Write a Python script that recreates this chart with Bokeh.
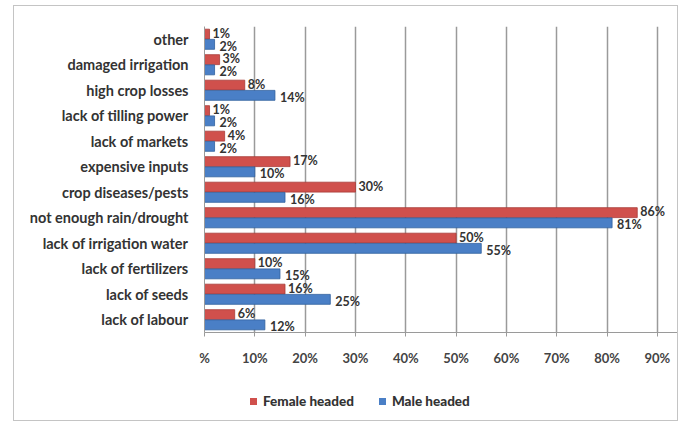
from bokeh.plotting import figure
from bokeh.models import ColumnDataSource, FactorRange, Range1d, FixedTicker, Div
from bokeh.layouts import column
from bokeh.transform import dodge
from bokeh.core.properties import value
from bokeh.embed import file_html
from bokeh.resources import INLINE

categories = ["other", "damaged irrigation", "high crop losses", "lack of tilling power",
              "lack of markets", "expensive inputs", "crop diseases/pests",
              "not enough rain/drought", "lack of irrigation water", "lack of fertilizers",
              "lack of seeds", "lack of labour"]
female = [1, 3, 8, 1, 4, 17, 30, 86, 50, 10, 16, 6]
male = [2, 2, 14, 2, 2, 10, 16, 81, 55, 15, 25, 12]
ticks = [0, 10, 20, 30, 40, 50, 60, 70, 80, 90]
tick_labels = ["%", "10%", "20%", "30%", "40%", "50%", "60%", "70%", "80%", "90%"]
series_names = ["Female headed", "Male headed"]

RED = "#d0504c"
BLUE = "#4a7fc6"
FONT = "Lato"

factors = list(reversed(categories))
src = ColumnDataSource(dict(
    cat=categories, female=female, male=male,
    flab=[f"{v}%" for v in female], mlab=[f"{v}%" for v in male],
))

p = figure(frame_width=473, frame_height=306, y_range=FactorRange(*factors), x_range=Range1d(0, 94),
           output_backend="svg", toolbar_location=None,
           min_border_left=190, min_border_right=0, min_border_top=20, min_border_bottom=50)
p.outline_line_color = None
p.background_fill_color = "white"
p.border_fill_color = "white"

# grid
p.ygrid.grid_line_color = None
p.xgrid.grid_line_color = "#9a9a9a"
p.xgrid.grid_line_width = 1.5
p.xgrid.ticker = FixedTicker(ticks=ticks)

bh = 0.39
rf = p.hbar(y=dodge("cat", 0.2, range=p.y_range), right="female", height=bh, source=src,
            fill_color=RED, line_color="#a83a36", line_width=0.8)
rm = p.hbar(y=dodge("cat", -0.2, range=p.y_range), right="male", height=bh, source=src,
            fill_color=BLUE, line_color="#2f5f9e", line_width=0.8)

p.text(x="female", y=dodge("cat", 0.2, range=p.y_range), text="flab", source=src,
       x_offset=3, y_offset=-1, text_baseline="middle", text_font=value(FONT),
       text_font_style="bold", text_font_size="12.5px", text_color="#333333")
p.text(x="male", y=dodge("cat", -0.2, range=p.y_range), text="mlab", source=src,
       x_offset=5, y_offset=2, text_baseline="middle", text_font=value(FONT),
       text_font_style="bold", text_font_size="12.5px", text_color="#333333")

# axes
xa = p.xaxis[0]
xa.ticker = FixedTicker(ticks=ticks)
xa.major_label_overrides = {t: l for t, l in zip(ticks, tick_labels)}
xa.major_label_text_font = FONT
xa.major_label_text_font_style = "bold"
xa.major_label_text_font_size = "13px"
xa.major_label_text_color = "#444444"
xa.major_label_standoff = 13
xa.axis_line_color = "#9a9a9a"
xa.major_tick_line_color = "#9a9a9a"
xa.major_tick_out = 4
xa.major_tick_in = 0
xa.minor_tick_line_color = None

ya = p.yaxis[0]
ya.major_label_text_font = FONT
ya.major_label_text_font_style = "bold"
ya.major_label_text_font_size = "14.5px"
ya.major_label_text_color = "#333333"
ya.axis_line_color = "#9a9a9a"
ya.major_tick_line_color = None
ya.major_label_standoff = 10

# legend (below the plot, inside the chart border)
def swatch(color):
    return (f'<span style="display:inline-block;width:7px;height:7px;background:{color};'
            f'margin-right:6px;vertical-align:middle;position:relative;top:-1px"></span>')

legend_html = (
    f'<div style="font-family:\'{FONT}\';font-weight:700;font-size:13.5px;color:#333333;'
    f'white-space:nowrap;line-height:38px;padding-left:236px">'
    f'{swatch(RED)}<b>{series_names[0]}</b>'
    f'<span style="display:inline-block;width:25px"></span>'
    f'{swatch(BLUE)}<b>{series_names[1]}</b></div>'
)
legend_div = Div(text=legend_html, width=663, height=38, margin=0)

layout = column(p, legend_div, margin=(5, 0, 0, 13), spacing=0)
layout.styles = {"border": "1px solid #c4c4c4", "background": "white"}

open("out.html", "w").write(file_html(layout, INLINE))
